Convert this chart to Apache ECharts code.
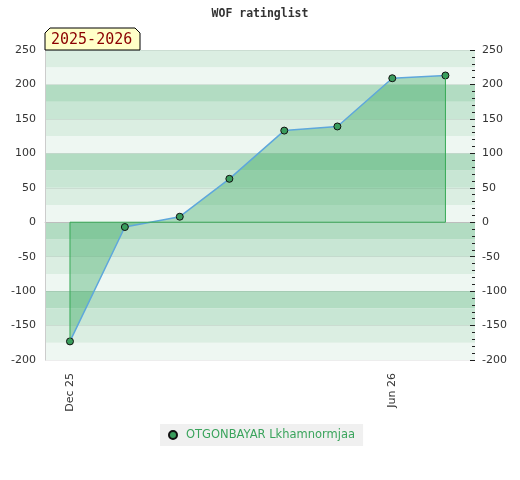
<!DOCTYPE html>
<html>
<head>
<meta charset="utf-8">
<script src="https://cdn.jsdelivr.net/npm/echarts@6/dist/echarts.min.js"></script>
<style>html,body{margin:0;padding:0;background:#fff}#c{width:520px;height:480px}</style>
</head>
<body>
<div id="c"></div>
<script>
const titleText = 'WOF ratinglist';
const seasonText = '2025-2026';
const playerName = 'OTGONBAYAR Lkhamnormjaa';
const dates = ['2025-12-01','2026-01-01','2026-02-01','2026-03-01','2026-04-01','2026-05-01','2026-06-01','2026-07-01'];
const ratings = [-173, -7, 8, 63, 133, 139, 209, 213];
const xLabelDates = ['2025-12-01','2026-06-01'];
const monthNames = ['Jan','Feb','Mar','Apr','May','Jun','Jul','Aug','Sep','Oct','Nov','Dec'];
const yTicks = [-200,-150,-100,-50,0,50,100,150,200,250];
const bandColors = ['#eef7f2','#dbeee2','#c8e6d4','#b2dcc2'];

const DAY = 86400000;
const toMs = s => { const p = s.split('-').map(Number); return Date.UTC(p[0], p[1]-1, p[2]); };
const pts = dates.map((d,i) => [toMs(d), ratings[i]]);
const first = pts[0], last = pts[pts.length-1];
const outline = [[last[0], last[1]], [last[0], 0], [first[0], 0], [first[0], first[1]]];

const chart = echarts.init(document.getElementById('c'));
const yMin = yTicks[0], yMax = yTicks[yTicks.length-1];
const lbl = {color:'#333', fontFamily:'DejaVu Sans', fontSize:11};
chart.setOption({
  animation:false,
  title:{text:titleText, left:'center', top:3, textStyle:{fontFamily:'DejaVu Sans Mono', fontSize:11.5, fontWeight:'bold', color:'#333'}},
  grid:{left:45, right:45, top:50, bottom:120},
  legend:{data:[playerName], left:160, top:424, backgroundColor:'#f0f0f0', padding:[5,8,5,8], icon:'circle', itemWidth:8, itemHeight:8,
    textStyle:{color:'#3aa45c', fontFamily:'DejaVu Sans', fontSize:11.5, padding:[0,0,0,4]}},
  xAxis:{type:'value', min:first[0]-14.1*DAY, max:last[0]+16.7*DAY,
    axisLine:{lineStyle:{color:'#ccc'}}, axisTick:{show:false}, splitLine:{show:false},
    axisLabel:Object.assign({rotate:90, margin:13, customValues:xLabelDates.map(toMs), showMinLabel:true, showMaxLabel:true,
      formatter:v => { const d = new Date(v); return monthNames[d.getUTCMonth()] + ' ' + String(d.getUTCFullYear()).slice(2); }}, lbl)},
  yAxis:[
    {type:'value', position:'left', min:yMin, max:yMax, interval:50,
      axisLine:{show:true, lineStyle:{color:'#ccc'}}, axisTick:{show:false},
      axisLabel:Object.assign({margin:9}, lbl), splitLine:{show:true, lineStyle:{color:'rgba(0,0,0,0.07)'}}, z:3},
    {type:'value', position:'right', min:yMin, max:yMax, interval:50,
      axisLine:{show:false}, axisTick:{show:true, inside:true, length:5, lineStyle:{color:'#222'}},
      minorTick:{show:true, splitNumber:5, length:3, lineStyle:{color:'#222'}},
      axisLabel:Object.assign({margin:7}, lbl), splitLine:{show:false}},
    {type:'value', position:'left', min:yMin, max:yMax, interval:25, show:true,
      axisLine:{show:false}, axisTick:{show:false}, axisLabel:{show:false}, splitLine:{show:false},
      splitArea:{show:true, areaStyle:{color:bandColors}}}
  ],
  graphic:[
    {type:'polygon', shape:{points:[[45,50],[45,33],[50,28],[135,28],[140,33],[140,50]]}, style:{fill:'#ffffc8', stroke:'#000', lineWidth:1}, z:10},
    {type:'text', left:51, top:33, style:{text:seasonText, fill:'#8b0000', font:'15px "DejaVu Sans Mono"'}, z:11}
  ],
  series:[
    {type:'line', name:playerName, data:pts, yAxisIndex:0, symbol:'circle', symbolSize:7,
      lineStyle:{color:'#5ea7dc', width:1.5},
      itemStyle:{color:'#3a9d5d', borderColor:'#111', borderWidth:1},
      areaStyle:{color:'rgba(50,165,90,0.52)', origin:'auto'}, z:3},
    {type:'line', name:'outline', data:outline, symbol:'none', silent:true, yAxisIndex:0,
      lineStyle:{color:'#35a955', width:1}, z:4}
  ]
});
</script>
</body>
</html>
